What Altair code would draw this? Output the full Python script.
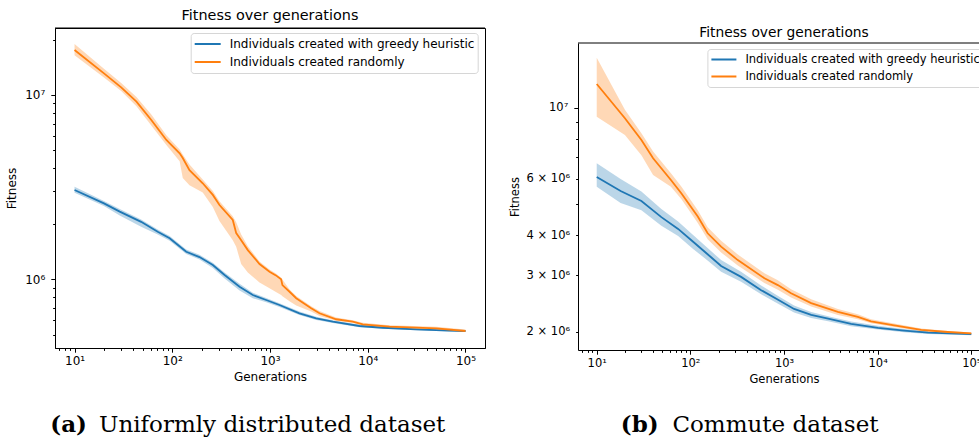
import altair as alt
import pandas as pd

GREEDY = "Individuals created with greedy heuristic"
RANDOM = "Individuals created randomly"
BLUE = "#1f77b4"
ORANGE = "#ff7f0e"
TITLE = "Fitness over generations"

# (a) uniformly distributed dataset: mean fitness and band edges per generation
uni_greedy_gen = [10, 20, 29, 48, 71, 94, 139, 190, 260, 343, 488, 667, 914, 1250,
                  2000, 2970, 4390, 8240, 14300, 31300, 68600, 100000]
uni_greedy_mean = [3.05e6, 2.58e6, 2.33e6, 2.05e6, 1.81e6, 1.67e6, 1.41e6, 1.32e6,
                   1.196e6, 1.055e6, 9.11e5, 8.22e5, 7.72e5, 7.25e5, 6.54e5, 6.14e5,
                   5.89e5, 5.58e5, 5.46e5, 5.35e5, 5.26e5, 5.24e5]
uni_greedy_lo = [2.95e6, 2.50e6, 2.22e6, 1.93e6, 1.75e6, 1.62e6, 1.37e6, 1.28e6,
                 1.15e6, 1.01e6, 8.70e5, 7.90e5, 7.50e5, 7.08e5, 6.40e5, 6.02e5,
                 5.79e5, 5.50e5, 5.39e5, 5.29e5, 5.21e5, 5.19e5]
uni_greedy_hi = [3.18e6, 2.66e6, 2.41e6, 2.11e6, 1.86e6, 1.72e6, 1.45e6, 1.36e6,
                 1.23e6, 1.09e6, 9.45e5, 8.45e5, 7.92e5, 7.42e5, 6.68e5, 6.26e5,
                 5.99e5, 5.66e5, 5.53e5, 5.41e5, 5.31e5, 5.29e5]

uni_random_gen = [10, 20, 30, 43, 61, 87, 119, 128, 150, 205, 260, 304, 416, 451, 507,
                  593, 781, 989, 1150, 1300, 1340, 1585, 1855, 2640, 3210, 4750, 7030,
                  8900, 16700, 50100, 100000]
uni_random_mean = [1.754e7, 1.31e7, 1.10e7, 9.20e6, 7.32e6, 5.70e6, 4.83e6, 4.55e6,
                   3.91e6, 3.32e6, 2.87e6, 2.53e6, 2.10e6, 1.78e6, 1.63e6, 1.44e6,
                   1.21e6, 1.10e6, 1.05e6, 1.00e6, 9.3e5, 8.56e5, 7.89e5, 6.96e5,
                   6.54e5, 6.07e5, 5.89e5, 5.70e5, 5.53e5, 5.42e5, 5.24e5]
uni_random_lo = [1.645e7, 1.245e7, 1.05e7, 8.68e6, 6.83e6, 5.36e6, 4.37e6, 3.54e6,
                 3.24e6, 2.96e6, 2.47e6, 2.07e6, 1.63e6, 1.50e6, 1.21e6, 1.09e6,
                 9.6e5, 8.94e5, 8.53e5, 8.22e5, 8.10e5, 7.60e5, 7.20e5, 6.68e5,
                 6.32e5, 5.95e5, 5.80e5, 5.62e5, 5.46e5, 5.35e5, 5.17e5]
uni_random_hi = [1.89e7, 1.39e7, 1.16e7, 9.75e6, 7.84e6, 6.04e6, 5.06e6, 4.76e6,
                 4.19e6, 3.48e6, 3.01e6, 2.65e6, 2.20e6, 2.04e6, 1.75e6, 1.51e6,
                 1.25e6, 1.13e6, 1.075e6, 1.02e6, 9.96e5, 8.80e5, 8.11e5, 7.15e5,
                 6.72e5, 6.21e5, 6.00e5, 5.81e5, 5.63e5, 5.52e5, 5.34e5]

# (b) commute dataset
com_greedy_gen = [10, 18, 30, 49, 74, 107, 155, 213, 348, 570, 865, 1280, 1950, 2960,
                  5210, 10100, 19200, 34600, 100000]
com_greedy_mean = [6.08e6, 5.50e6, 5.12e6, 4.56e6, 4.19e6, 3.82e6, 3.48e6, 3.21e6,
                   2.97e6, 2.70e6, 2.52e6, 2.36e6, 2.26e6, 2.20e6, 2.12e6, 2.06e6,
                   2.02e6, 1.99e6, 1.97e6]
com_greedy_lo = [5.67e6, 5.05e6, 4.79e6, 4.29e6, 3.98e6, 3.63e6, 3.33e6, 3.08e6,
                 2.87e6, 2.62e6, 2.45e6, 2.30e6, 2.21e6, 2.16e6, 2.085e6, 2.035e6,
                 1.995e6, 1.97e6, 1.955e6]
com_greedy_hi = [6.71e6, 5.99e6, 5.48e6, 4.83e6, 4.42e6, 4.01e6, 3.64e6, 3.35e6,
                 3.08e6, 2.79e6, 2.59e6, 2.42e6, 2.31e6, 2.24e6, 2.155e6, 2.09e6,
                 2.045e6, 2.01e6, 1.985e6]

com_random_gen = [10, 20, 30, 40, 62, 80, 120, 153, 213, 321, 618, 859, 1190, 1950,
                  3760, 6140, 8500, 14500, 29200, 56200, 100000]
com_random_mean = [1.185e7, 9.27e6, 7.93e6, 6.96e6, 5.95e6, 5.41e6, 4.58e6, 4.06e6,
                   3.69e6, 3.35e6, 2.94e6, 2.80e6, 2.64e6, 2.46e6, 2.31e6, 2.23e6,
                   2.16e6, 2.10e6, 2.03e6, 2.00e6, 1.98e6]
com_random_lo = [9.37e6, 8.22e6, 7.11e6, 6.17e6, 5.67e6, 5.19e6, 4.37e6, 3.89e6,
                 3.54e6, 3.22e6, 2.84e6, 2.71e6, 2.56e6, 2.40e6, 2.26e6, 2.19e6,
                 2.13e6, 2.075e6, 2.01e6, 1.985e6, 1.967e6]
com_random_hi = [1.43e7, 9.85e6, 8.33e6, 7.30e6, 6.25e6, 5.68e6, 4.79e6, 4.24e6,
                 3.85e6, 3.49e6, 3.05e6, 2.90e6, 2.72e6, 2.53e6, 2.36e6, 2.27e6,
                 2.19e6, 2.13e6, 2.05e6, 2.015e6, 1.993e6]

# axis extents (log10 padding around the data)
X_DOMAIN = [10 ** 0.8, 10 ** 5.2]
UNI_Y_DOMAIN = [10 ** 5.6272, 10 ** 7.3635]
COM_Y_DOMAIN = [10 ** 6.2449, 10 ** 7.2016]

# tick positions: decades plus the 2..9 subdivisions
x_ticks = [m * 10 ** e for e in range(0, 6) for m in range(1, 10)
           if X_DOMAIN[0] <= m * 10 ** e <= X_DOMAIN[1]]
uni_y_ticks = [m * 10 ** e for e in range(5, 8) for m in range(1, 10)
               if UNI_Y_DOMAIN[0] <= m * 10 ** e <= UNI_Y_DOMAIN[1]]
com_y_ticks = [m * 10 ** e for e in range(6, 8) for m in range(1, 10)
               if COM_Y_DOMAIN[0] <= m * 10 ** e <= COM_Y_DOMAIN[1]]
com_y_labelled = [2, 3, 4, 6, 10]  # in units of 10^6

SUP = "['\u2070','\u00b9','\u00b2','\u00b3','\u2074','\u2075','\u2076','\u2077','\u2078','\u2079']"
LOG10 = "(log(datum.value)/LN10)"
EXP = f"floor({LOG10}+1e-6)"
MANT = f"round(datum.value/pow(10,{EXP}))"
MAJOR = f"abs({LOG10}-round({LOG10}))<0.001"
DECADE_LABEL = f"{MAJOR} ? '10' + {SUP}[{EXP}] : ''"
COM_Y_LABEL = (f"indexof({com_y_labelled}, round(datum.value/1e6)) >= 0 ? "
               f"({MANT} == 1 ? '10' + {SUP}[{EXP}] : {MANT} + ' \u00d7 10' + {SUP}[{EXP}]) : ''")

FONT = "DejaVu Sans"
SERIF = "DejaVu Serif"


def log_axis(values, label_expr, title, size, label_pad, title_pad):
    return alt.Axis(
        values=values, labelExpr=label_expr, title=title,
        tickSize={"condition": {"test": MAJOR, "value": 4.2}, "value": 2.4},
        tickWidth=1, tickColor="black", domainColor="black", domainWidth=1,
        labelFont=FONT, labelFontSize=size, labelColor="black",
        titleFont=FONT, titleFontSize=size, titleFontWeight="normal", titleColor="black",
        labelPadding=label_pad, titlePadding=title_pad,
        labelFlush=False, labelOverlap=False, grid=False,
    )


def frame(gen, mean, lo, hi, name):
    return pd.DataFrame({"series": name, "gen": gen, "mean": mean, "lo": lo, "hi": hi})


color_scale = alt.Scale(domain=[GREEDY, RANDOM], range=[BLUE, ORANGE])


def panel(data, y_domain, y_range, y_ticks, y_label_expr, size, legend_xy, legend_geom,
          caption_bold, caption_text, caption_x, caption_y, width, height):
    xs = alt.Scale(type="log", domain=X_DOMAIN, nice=False)
    ys = alt.Scale(type="log", domain=y_domain, nice=False, range=y_range)
    x_axis = log_axis(x_ticks, DECADE_LABEL, "Generations", size, 3, 5)
    y_axis = log_axis(y_ticks, y_label_expr, "Fitness", size, 6, 6)
    sym_len, row_h = legend_geom
    legend = alt.Legend(
        orient="none", legendX=legend_xy[0], legendY=legend_xy[1], title=None,
        symbolType="stroke", symbolSize=sym_len ** 2, symbolStrokeWidth=1.8,
        symbolOpacity=1, clipHeight=row_h, rowPadding=2, labelOffset=8, padding=3,
        labelFont=FONT, labelFontSize=size, labelColor="black", labelLimit=400,
        fillColor="white", strokeColor="#d6d6d6", cornerRadius=3,
    )
    color = alt.Color("series:N", scale=color_scale, legend=legend)
    band = alt.Chart(data).mark_area(opacity=0.3).encode(
        x=alt.X("gen:Q", scale=xs, axis=x_axis),
        y=alt.Y("lo:Q", scale=ys, axis=y_axis),
        y2="hi:Q",
        color=color,
    )
    line = alt.Chart(data).mark_line(strokeWidth=1.8).encode(
        x=alt.X("gen:Q", scale=xs, axis=x_axis),
        y=alt.Y("mean:Q", scale=ys, axis=y_axis),
        color=color,
    )
    # top edge of the frame, drawn at the upper end of the y domain
    top_edge = alt.Chart(pd.DataFrame({"v": [y_domain[1]]})).mark_rule(
        color="black", strokeWidth=1).encode(y=alt.Y("v:Q", scale=ys, axis=y_axis))
    cap_a = alt.Chart(pd.DataFrame({"t": [caption_bold]})).mark_text(
        font=SERIF, fontSize=23, fontWeight="bold", align="right",
        baseline="alphabetic", color="black").encode(
        text="t:N", x=alt.value(caption_x[0]), y=alt.value(caption_y))
    cap_b = alt.Chart(pd.DataFrame({"t": [caption_text]})).mark_text(
        font=SERIF, fontSize=23, align="left",
        baseline="alphabetic", color="black").encode(
        text="t:N", x=alt.value(caption_x[1]), y=alt.value(caption_y))
    return alt.layer(band, line, top_edge, cap_a, cap_b).properties(
        width=width, height=height)


uni_data = pd.concat([
    frame(uni_greedy_gen, uni_greedy_mean, uni_greedy_lo, uni_greedy_hi, GREEDY),
    frame(uni_random_gen, uni_random_mean, uni_random_lo, uni_random_hi, RANDOM),
])
com_data = pd.concat([
    frame(com_greedy_gen, com_greedy_mean, com_greedy_lo, com_greedy_hi, GREEDY),
    frame(com_random_gen, com_random_mean, com_random_lo, com_random_hi, RANDOM),
])

left = panel(uni_data, UNI_Y_DOMAIN, [320, 0], uni_y_ticks, DECADE_LABEL, 12,
             (135.7, 5), (26, 16), "(a)", "Uniformly distributed dataset", (32, 44), 404,
             430, 320).properties(
    title=alt.TitleParams(TITLE, font=FONT, fontSize=14.4, fontWeight="normal",
                          color="black", anchor="middle", frame="group",
                          baseline="alphabetic", offset=-7.1))

right = panel(com_data, COM_Y_DOMAIN, [322, 15], com_y_ticks, COM_Y_LABEL, 11.5,
              (129.4, 21), (25, 15), "(b)", "Commute dataset", (80.7, 94.4), 404,
              412, 322).properties(
    title=alt.TitleParams(TITLE, font=FONT, fontSize=13.8, fontWeight="normal",
                          color="black", anchor="middle", frame="group",
                          baseline="alphabetic", offset=-22.5),
    view=alt.ViewBackground(stroke="transparent"),
)

# fixed 979x438 canvas: the right-hand panel runs past the edge and is cut there
chart = alt.hconcat(left, right, spacing=22).resolve_scale(
    color="independent").resolve_legend(color="independent").properties(
    autosize=alt.AutoSizeParams(type="none"),
    padding={"left": 55, "top": 28, "right": 924, "bottom": 410},
    background="white",
).configure_view(stroke="black", strokeWidth=1)

chart.save("out.html", embed_options={"renderer": "svg", "actions": False})
